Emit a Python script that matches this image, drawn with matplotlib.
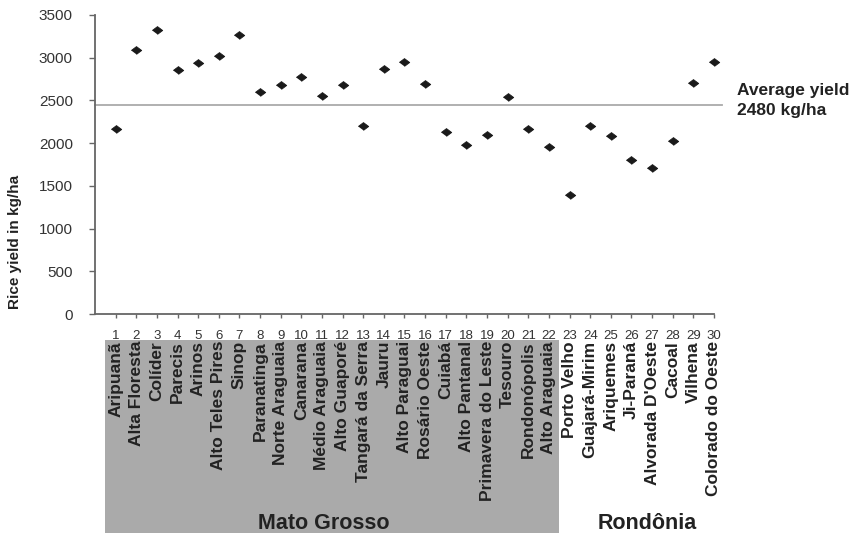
import matplotlib
matplotlib.use("Agg")
import matplotlib.pyplot as plt
from matplotlib.transforms import blended_transform_factory
from matplotlib.patches import Rectangle

plt.rcParams['font.family'] = ['Liberation Sans', 'DejaVu Sans']

numbers = list(range(1, 31))
regions = ["Aripuanã", "Alta Floresta", "Colíder", "Parecis", "Arinos",
           "Alto Teles Pires", "Sinop", "Paranatinga", "Norte Araguaia",
           "Canarana", "Médio Araguaia", "Alto Guaporé", "Tangará da Serra",
           "Jauru", "Alto Paraguai", "Rosário Oeste", "Cuiabá",
           "Alto Pantanal", "Primavera do Leste", "Tesouro", "Rondonópolis",
           "Alto Araguaia", "Porto Velho", "Guajará-Mirim", "Ariquemes",
           "Ji-Paraná", "Alvorada D'Oeste", "Cacoal", "Vilhena",
           "Colorado do Oeste"]
yields = [2170, 3095, 3325, 2857, 2935, 3021, 3263, 2603, 2678, 2775,
          2553, 2678, 2201, 2869, 2947, 2690, 2135, 1979, 2096, 2541,
          2162, 1955, 1389, 2201, 2084, 1807, 1706, 2029, 2705, 2954]
average_line = 2450
yticks = [0, 500, 1000, 1500, 2000, 2500, 3000, 3500]
states = ["Mato Grosso", "Rondônia"]

W, H = 854, 533
fig = plt.figure(figsize=(W / 100, H / 100), dpi=100)
ax = fig.add_axes([95 / W, 1 - 314 / H, (714 - 95) / W, (314 - 15) / H])

txt = '#222222'
ax.plot(numbers, yields, linestyle='none',
        marker=[(-1, 0), (0, 0.75), (1, 0), (0, -0.75)],
        ms=7.5, color='#1a1a1a', mec='#1a1a1a', mew=0.6, clip_on=False, zorder=3)
ax.plot([0, 30.4], [average_line, average_line], color='#aaaaaa', lw=1.3,
        clip_on=False, zorder=2)

ax.set_xlim(0, 30)
ax.set_ylim(0, 3500)
ax.set_yticks(yticks)
ax.set_yticklabels([str(v) for v in yticks], fontsize=11, color='#333333')
ax.set_xticks(numbers)
ax.set_xticklabels([str(n) for n in numbers], fontsize=9.5, color='#333333')
ax.tick_params(axis='y', length=4.5, width=1, color='#666666', pad=11.5)
ax.tick_params(axis='x', length=3, width=1, color='#666666', pad=8.5)
for s in ['top', 'right']:
    ax.spines[s].set_visible(False)
for s in ['left', 'bottom']:
    ax.spines[s].set_color('#666666')
    ax.spines[s].set_linewidth(1.3)

trans = blended_transform_factory(ax.transData, fig.transFigure)
ax.add_patch(Rectangle((0.5, 0), 22.0, 1 - 340 / H, transform=trans,
                       facecolor='#aaaaaa', edgecolor='none', clip_on=False,
                       zorder=0))
for n, name in zip(numbers, regions):
    ax.text(n, 1 - 341 / H, name, transform=trans, rotation=90,
            ha='center', va='top', fontsize=12.5, fontweight='bold', color=txt)

ax.text(11.1, 1 - 529 / H, states[0], transform=trans, ha='center',
        va='baseline', fontsize=15.5, fontweight='bold', color=txt)
ax.text(26.75, 1 - 529 / H, states[1], transform=trans, ha='center',
        va='baseline', fontsize=15.5, fontweight='bold', color=txt)

fig.text(15 / W, 1 - 242 / H, "Rice yield in kg/ha", rotation=90,
         ha='center', va='center', fontsize=11, fontweight='bold', color=txt)
fig.text(737 / W, 1 - 95 / H, "Average yield", ha='left', va='baseline',
         fontsize=12.5, fontweight='bold', color=txt)
fig.text(737 / W, 1 - 115 / H, "2480 kg/ha", ha='left', va='baseline',
         fontsize=12.5, fontweight='bold', color=txt)

fig.savefig("out.png", dpi=100)
